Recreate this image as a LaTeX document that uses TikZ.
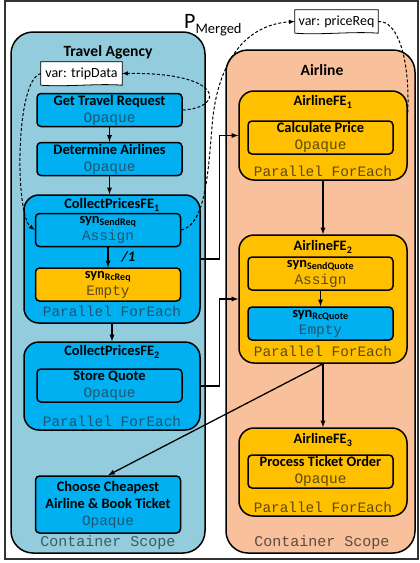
\documentclass[tikz,border=0pt]{standalone}
\usepackage{fontspec}
\setmainfont{Carlito}
\setmonofont{Liberation Mono}
\usepackage{tikz}
\usetikzlibrary{positioning}

\definecolor{tablue}{HTML}{93CDDD}
\definecolor{alpeach}{HTML}{F9C19B}
\definecolor{actblue}{HTML}{00B0F0}
\definecolor{actorange}{HTML}{FFC000}
\definecolor{kindonblue}{HTML}{1E5673}
\definecolor{kindonorange}{HTML}{5E4A14}
\definecolor{scopeonblue}{HTML}{3D5A66}
\definecolor{scopeonpeach}{HTML}{5D4B40}

\newcommand{\boxfont}{\fontsize{14.4}{17}\selectfont}
\newcommand{\kb}[1]{{\ttfamily\color{kindonblue}#1}}
\newcommand{\ko}[1]{{\ttfamily\color{kindonorange}#1}}

\tikzset{
  scopebox/.style={draw, line width=1.5pt, rounded corners=22pt, inner sep=0pt},
  febox/.style={draw, line width=1.5pt, rounded corners=15pt, inner sep=0pt,
    minimum width=168pt},
  actbox/.style={draw, line width=1.5pt, rounded corners=4pt, inner sep=0pt,
    minimum width=145pt, minimum height=33pt, align=center, font=\boxfont},
  varbox/.style={fill=white, inner sep=0pt, minimum height=23pt,
    font=\fontsize{14}{14}\selectfont},
  title/.style={font=\boxfont\bfseries, inner sep=0pt},
  scopetitle/.style={font=\fontsize{15.6}{18}\selectfont\bfseries, inner sep=0pt},
  kind/.style={font=\boxfont\ttfamily, inner sep=0pt},
  flow/.style={line width=1.3pt, -latex},
  dataflow/.style={line width=1pt, dash pattern=on 3pt off 2pt, -latex},
}

\begin{document}
\begin{tikzpicture}[x=1pt, y=-1pt]
\useasboundingbox (0,0) rectangle (420,563);
\draw[line width=1.2pt, black!80] (5,1) rectangle (418,559);

% containers
\node[scopebox, fill=tablue, minimum width=194pt, minimum height=521pt] (ta) at (108,292.5) {};
\node[scopebox, fill=alpeach, minimum width=189pt, minimum height=503pt] (al) at (320.5,301.5) {};
\node[scopetitle] (ta-t) at (108,52) {Travel Agency};
\node[scopetitle] (al-t) at (322,70) {Airline};
\node[kind, font=\fontsize{15}{17}\selectfont\ttfamily, text=scopeonblue] (ta-k) at (108,543) {Container Scope};
\node[kind, font=\fontsize{15}{17}\selectfont\ttfamily, text=scopeonpeach] (al-k) at (322,543) {Container Scope};
\node[anchor=base west, inner sep=0pt] (pm) at (184,28)
  {\fontsize{22}{22}\selectfont P\raisebox{-5pt}{\fontsize{14.5}{14.5}\selectfont Merged}};

% travel agency
\node[actbox, fill=actblue] (gtr) at (109.5,110) {\textbf{Get Travel Request}\\\kb{Opaque}};
\node[actbox, fill=actblue] (da) at (109.5,159) {\textbf{Determine Airlines}\\\kb{Opaque}};
\node[febox, fill=actblue, minimum width=176pt, minimum height=128pt] (cpfe1) at (112,259) {};
\node[title] (cpfe1-t) at (112,205) {CollectPricesFE\textsubscript{1}};
\node[kind, text=kindonblue] (cpfe1-k) at (112,311) {Parallel ForEach};
\node[actbox, fill=actblue] (sendreq) at (108,230) {\textbf{syn\textsubscript{SendReq}}\\\kb{Assign}};
\node[actbox, fill=actorange] (rcreq) at (108,284.5) {\textbf{syn\textsubscript{RcReq}}\\\ko{Empty}};
\node[febox, fill=actblue, minimum width=176pt, minimum height=88pt] (cpfe2) at (112,386) {};
\node[title] (cpfe2-t) at (112,352) {CollectPricesFE\textsubscript{2}};
\node[kind, text=kindonblue] (cpfe2-k) at (112,421) {Parallel ForEach};
\node[actbox, fill=actblue] (storeq) at (109.5,385.5) {\textbf{Store Quote}\\\kb{Opaque}};
\node[actbox, fill=actblue, minimum height=57pt] (choose) at (108,504.5)
  {\textbf{Choose Cheapest}\\\textbf{Airline \& Book Ticket}\\\kb{Opaque}};

% airline
\node[febox, fill=actorange, minimum height=89pt] (afe1) at (323,135.5) {};
\node[title] (afe1-t) at (323,102) {AirlineFE\textsubscript{1}};
\node[kind, text=kindonorange] (afe1-k) at (323,171) {Parallel ForEach};
\node[actbox, fill=actorange] (calc) at (320.5,137.5) {\textbf{Calculate Price}\\\ko{Opaque}};
\node[febox, fill=actorange, minimum height=128pt] (afe2) at (323,299) {};
\node[title] (afe2-t) at (323,247) {AirlineFE\textsubscript{2}};
\node[kind, text=kindonorange] (afe2-k) at (323,351) {Parallel ForEach};
\node[actbox, fill=actorange] (sendq) at (320.5,273.5) {\textbf{syn\textsubscript{SendQuote}}\\\ko{Assign}};
\node[actbox, fill=actblue] (rcq) at (320.5,323.5) {\textbf{syn\textsubscript{RcQuote}}\\\kb{Empty}};
\node[febox, fill=actorange, minimum height=88pt] (afe3) at (323,472) {};
\node[title] (afe3-t) at (323,440) {AirlineFE\textsubscript{3}};
\node[kind, text=kindonorange] (afe3-k) at (323,507) {Parallel ForEach};
\node[actbox, fill=actorange] (pto) at (320.5,471.5) {\textbf{Process Ticket Order}\\\ko{Opaque}};

% variables
\node[varbox, minimum width=81pt] (td) at (81.5,73.5) {var: tripData};
\draw[line width=0.8pt] (td.south west) -- (td.north west) -- (td.north east) -- (td.south east)
  .. controls +(-25,-2) and +(25,2) .. (td.south west);
\node[varbox, minimum width=83pt] (pr) at (336.5,21.5) {var: priceReq};
\draw[line width=0.8pt] (pr.south west) -- (pr.north west) -- (pr.north east) -- (pr.south east)
  .. controls +(-25,-2) and +(25,2) .. (pr.south west);

% control flow
\draw[flow] (gtr) -- (da);
\draw[flow] (da.south) -- (da.south |- cpfe1.north);
\draw[flow] (sendreq) -- (rcreq)
  node[midway, right=13pt, font=\boxfont, inner sep=0pt] (l1) {\textbf{\textit{/1}}};
\draw[flow] (cpfe1) -- (cpfe2);
\draw[flow] (cpfe1.east) -- ++(19,0) |- (afe1.west);
\draw[flow] (cpfe2.east) -- ++(19,0) |- (afe2.west);
\draw[flow] (afe1) -- (afe2);
\draw[flow] (sendq.south) -- (sendq.south |- rcq.north);
\draw[flow] (afe2) -- (afe3);
\draw[flow] (afe2.south) -- (choose.north);

% data flow
\draw[dataflow] (gtr.east) .. controls (225,108) and (225,72) .. (td.east);
\draw[dataflow] (td.west) .. controls (15,80) and (15,215) .. (sendreq.west);
\draw[dataflow] (sendreq.east) .. controls (205,225) and (208,175) .. (212,127)
  .. controls (216,70) and (240,25) .. (pr.west);
\draw[dataflow, -] (pr.east) .. controls (398,20) and (410,60) .. ([yshift=23pt]afe1.east);
\end{tikzpicture}
\end{document}
